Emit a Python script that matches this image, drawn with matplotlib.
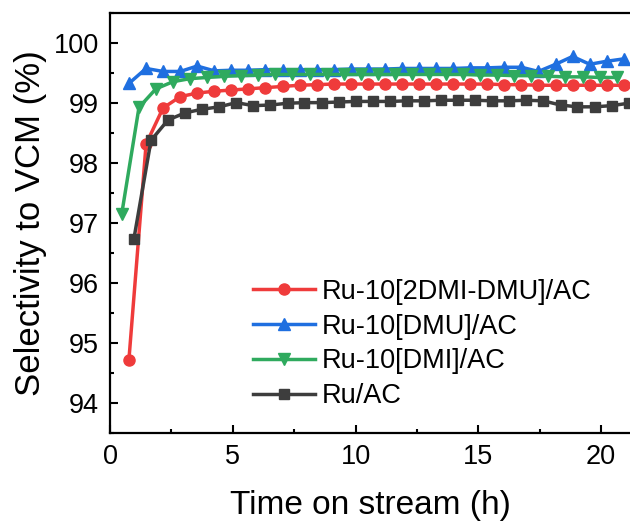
import matplotlib.pyplot as plt
from matplotlib.ticker import MultipleLocator

plt.rcParams['font.family'] = ['Liberation Sans', 'DejaVu Sans']

# tiempos (h) de cada serie
t_ru_dmidmu = [0.77, 1.47, 2.16, 2.86, 3.55, 4.25, 4.94, 5.64, 6.33, 7.03,
               7.72, 8.42, 9.11, 9.81, 10.50, 11.20, 11.89, 12.59, 13.28, 13.98,
               14.67, 15.37, 16.06, 16.76, 17.45, 18.15, 18.84, 19.54, 20.23, 20.93]
t_ru_dmu = t_ru_dmidmu
t_ru_dmi = [0.48, 1.18, 1.87, 2.57, 3.26, 3.96, 4.65, 5.35, 6.04, 6.74,
            7.43, 8.13, 8.82, 9.52, 10.21, 10.91, 11.60, 12.30, 12.99, 13.69,
            14.38, 15.08, 15.77, 16.47, 17.16, 17.86, 18.55, 19.25, 19.94, 20.64]
t_ru_ac = [0.97, 1.67, 2.36, 3.06, 3.75, 4.45, 5.14, 5.84, 6.53, 7.23,
           7.92, 8.62, 9.31, 10.01, 10.70, 11.40, 12.09, 12.79, 13.48, 14.18,
           14.87, 15.57, 16.26, 16.96, 17.65, 18.35, 19.04, 19.74, 20.43, 21.13]

# selectividad a VCM (%)
s_ru_dmidmu = [94.72, 98.32, 98.92, 99.11, 99.17, 99.20, 99.22, 99.24, 99.26, 99.28,
               99.30, 99.31, 99.32, 99.32, 99.32, 99.32, 99.32, 99.32, 99.32, 99.32,
               99.32, 99.32, 99.31, 99.31, 99.30, 99.30, 99.30, 99.30, 99.30, 99.30]
s_ru_dmu = [99.33, 99.58, 99.53, 99.53, 99.62, 99.54, 99.55, 99.55, 99.56, 99.56,
            99.56, 99.56, 99.56, 99.57, 99.57, 99.57, 99.58, 99.58, 99.58, 99.58,
            99.59, 99.59, 99.60, 99.60, 99.53, 99.65, 99.78, 99.65, 99.70, 99.74]
s_ru_dmi = [97.16, 98.93, 99.24, 99.36, 99.41, 99.43, 99.45, 99.46, 99.47, 99.48,
            99.48, 99.48, 99.48, 99.48, 99.48, 99.48, 99.48, 99.48, 99.48, 99.48,
            99.48, 99.47, 99.47, 99.46, 99.46, 99.45, 99.44, 99.44, 99.43, 99.43]
s_ru_ac = [96.73, 98.38, 98.72, 98.84, 98.90, 98.94, 99.01, 98.96, 98.97, 99.00,
           99.01, 99.01, 99.02, 99.03, 99.03, 99.03, 99.04, 99.04, 99.05, 99.05,
           99.05, 99.04, 99.04, 99.05, 99.04, 98.97, 98.94, 98.94, 98.96, 99.00]

etiquetas = ['Ru-10[2DMI-DMU]/AC', 'Ru-10[DMU]/AC', 'Ru-10[DMI]/AC', 'Ru/AC']

fig = plt.figure(figsize=(6.3, 5.24), dpi=100)
ax = fig.add_axes([110/630, 91/524, 520/630, 419.7/524])

ax.plot(t_ru_dmidmu, s_ru_dmidmu, '-o', color='#EF3B3B', lw=2.5, ms=8, label=etiquetas[0])
ax.plot(t_ru_dmu, s_ru_dmu, '-^', color='#1F6FE0', lw=2.5, ms=8.5, label=etiquetas[1])
ax.plot(t_ru_dmi, s_ru_dmi, '-v', color='#2FAA5E', lw=2.5, ms=8.5, label=etiquetas[2])
ax.plot(t_ru_ac, s_ru_ac, '-s', color='#3D3D3D', lw=2.5, ms=7.5, label=etiquetas[3])

ax.set_xlim(0, 21.18)
ax.set_ylim(93.5, 100.5)
ax.xaxis.set_major_locator(MultipleLocator(5))
ax.xaxis.set_minor_locator(MultipleLocator(2.5))
ax.yaxis.set_major_locator(MultipleLocator(1))
ax.yaxis.set_minor_locator(MultipleLocator(0.5))
ax.tick_params(which='both', direction='in', width=1.5, labelsize=19.5, pad=8)
ax.tick_params(which='major', length=6)
ax.tick_params(which='minor', length=3)
for lado in ['left', 'top', 'bottom']:
    ax.spines[lado].set_linewidth(1.6)
ax.spines['right'].set_visible(False)

ax.set_xlabel('Time on stream (h)', fontsize=24, labelpad=14)
ax.set_ylabel('Selectivity to VCM (%)', fontsize=25, labelpad=5)

ax.legend(loc='center left', bbox_to_anchor=(0.275, 0.212), frameon=False,
          fontsize=19.5, handlelength=2.3, handletextpad=0.25, labelspacing=0.33,
          borderpad=0, borderaxespad=0)

plt.savefig('out.png', dpi=100)
